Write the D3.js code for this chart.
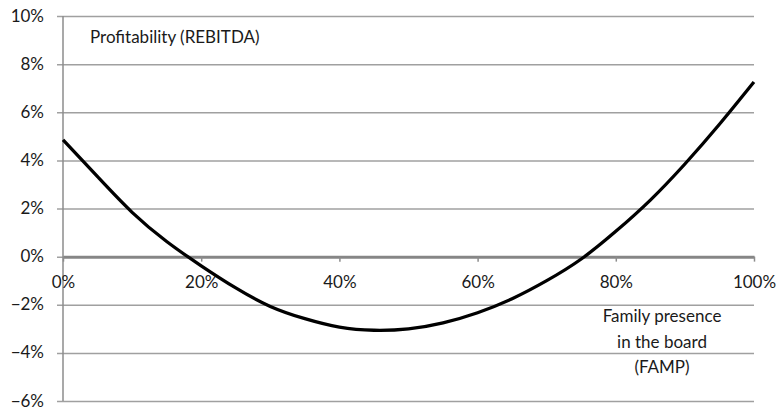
<!DOCTYPE html>
<html>
<head>
<meta charset="utf-8">
<script src="https://cdn.jsdelivr.net/npm/d3@7"></script>
<style>
  body { margin: 0; background: #fff; }
  text { font-family: Lato, "Open Sans", sans-serif; fill: #1a1a1a; }
</style>
</head>
<body>
<div id="graph"></div>
<script>
const width = 779;
const height = 411;
const marginLeft = 63;
const marginRight = 25;
const marginTop = 16;
const marginBottom = 10;
const fontSize = 17;

// family presence share (x) and REBITDA (y)
const famp = [0, 0.05, 0.10, 0.15, 0.20, 0.25, 0.30, 0.35, 0.40, 0.45, 0.50,
              0.55, 0.60, 0.65, 0.70, 0.75, 0.80, 0.85, 0.90, 0.95, 1.00];
const rebitda = [0.0485, 0.0332, 0.0184, 0.0063, -0.0038, -0.013, -0.0207, -0.0258, -0.0293, -0.0306, -0.030,
                 -0.0275, -0.0233, -0.0175, -0.010, -0.001, 0.0105, 0.0235, 0.0385, 0.055, 0.0726];
const yTicks = [-0.06, -0.04, -0.02, 0, 0.02, 0.04, 0.06, 0.08, 0.10];
const xTicks = [0, 0.2, 0.4, 0.6, 0.8, 1.0];

const xScale = d3.scaleLinear()
            .domain([0, 1])
            .range([marginLeft, width - marginRight])

const yScale = d3.scaleLinear()
            .domain([-0.06, 0.10])
            .range([height - marginBottom, marginTop])

const svg = d3.create("svg")
              .attr("width", width)
              .attr("height", height)

const pct = d3.format(".0%")

// horizontal gridlines + y labels
const yAxis = d3.axisLeft(yScale)
                .tickValues(yTicks)
                .tickFormat(pct)
                .tickSize(-(width - marginRight - marginLeft + 6))
                .tickPadding(13)

svg.append("g")
   .attr("transform", `translate(${marginLeft - 6}, 0)`)
   .call(yAxis)
   .call(g => g.select(".domain").remove())
   .call(g => g.selectAll(".tick line").attr("stroke", "#a0a0a0").attr("stroke-width", 1.5))
   .call(g => g.selectAll(".tick text").attr("font-size", fontSize).attr("fill", "#1a1a1a").attr("dy", "0.3em"))

// vertical axis line
svg.append("line")
   .attr("x1", marginLeft).attr("x2", marginLeft)
   .attr("y1", yScale(0.10)).attr("y2", yScale(-0.06))
   .attr("stroke", "#8c8c8c")
   .attr("stroke-width", 1.5)

// x axis on the zero line
const xAxis = d3.axisBottom(xScale)
                .tickValues(xTicks)
                .tickFormat(pct)
                .tickSize(5)
                .tickSizeOuter(0)
                .tickPadding(14)

svg.append("g")
   .attr("transform", `translate(0, ${yScale(0)})`)
   .call(xAxis)
   .call(g => g.select(".domain").attr("stroke", "#868686").attr("stroke-width", 3))
   .call(g => g.selectAll(".tick line").attr("stroke", "#8c8c8c").attr("stroke-width", 1.5))
   .call(g => g.selectAll(".tick text").attr("font-size", fontSize).attr("fill", "#1a1a1a"))

// the fitted curve
const line = d3.line()
               .x((d, i) => xScale(famp[i]))
               .y(d => yScale(d))
               .curve(d3.curveNatural)

svg.append("path")
   .datum(rebitda)
   .attr("fill", "none")
   .attr("stroke", "#000")
   .attr("stroke-width", 3.3)
   .attr("d", line)

svg.append("text")
   .attr("x", 90)
   .attr("y", 43)
   .attr("font-size", fontSize)
   .text("Profitability (REBITDA)")

const xTitle = ["Family presence", "in the board", "(FAMP)"];

svg.append("text")
   .attr("text-anchor", "middle")
   .attr("font-size", fontSize)
   .selectAll("tspan")
   .data(xTitle)
   .enter()
   .append("tspan")
   .attr("x", 662)
   .attr("y", (d, i) => 322 + i * 25.5)
   .text(d => d)

graph.append(svg.node());
</script>
</body>
</html>
